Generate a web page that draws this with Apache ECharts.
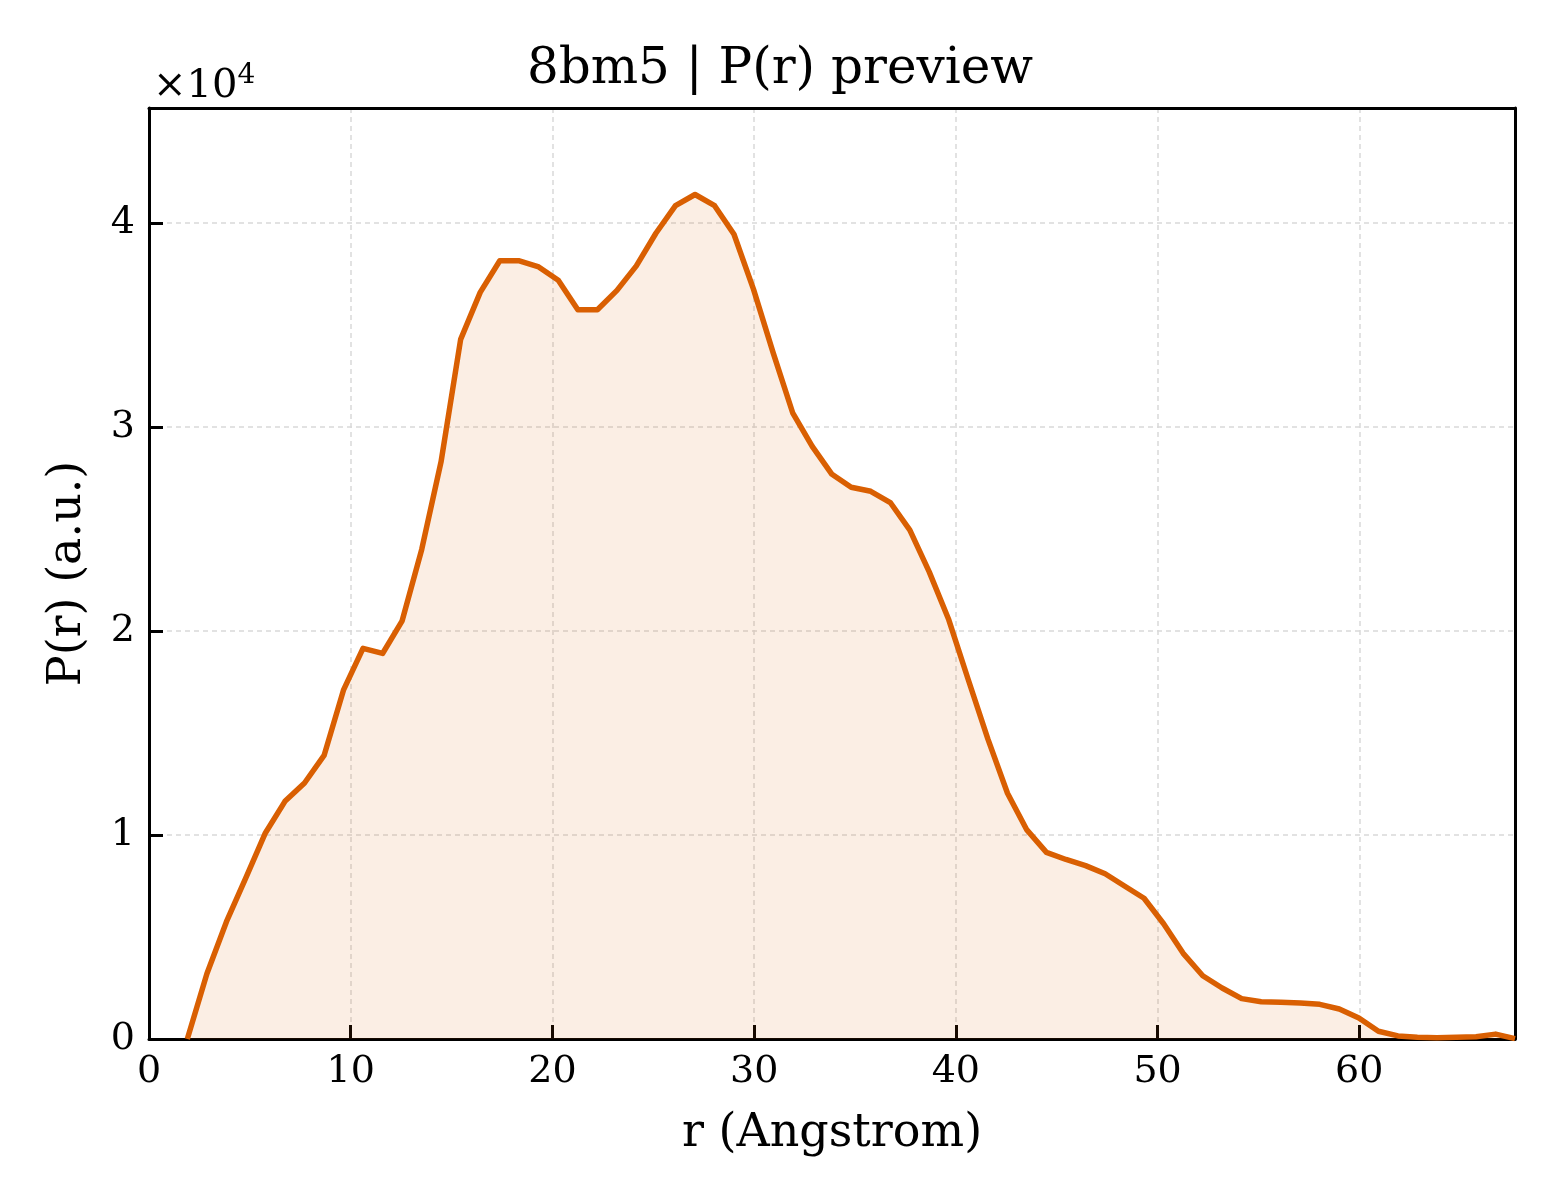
<!DOCTYPE html>
<html>
<head>
<meta charset="utf-8">
<title>8bm5 P(r) preview</title>
<script src="https://cdn.jsdelivr.net/npm/echarts@6/dist/echarts.min.js"></script>
<style>
html, body { margin: 0; padding: 0; background: #fff; }
#main { width: 1560px; height: 1200px; }
</style>
</head>
<body>
<div id="main"></div>
<script>
// r values (Angstrom)
var rValues = [
    1.90, 2.87, 3.84, 4.80, 5.77, 6.74, 7.71, 8.68, 9.64, 10.61,
    11.58, 12.55, 13.52, 14.48, 15.45, 16.42, 17.39, 18.36, 19.32, 20.29,
    21.26, 22.23, 23.20, 24.16, 25.13, 26.10, 27.07, 28.04, 29.00, 29.97,
    30.94, 31.91, 32.88, 33.84, 34.81, 35.78, 36.75, 37.72, 38.68, 39.65,
    40.62, 41.59, 42.56, 43.52, 44.49, 45.46, 46.43, 47.40, 48.36, 49.33,
    50.30, 51.27, 52.24, 53.20, 54.17, 55.14, 56.11, 57.08, 58.04, 59.01,
    59.98, 60.95, 61.92, 62.88, 63.85, 64.82, 65.79, 66.76, 67.72
];

// P(r) in a.u.
var prValues = [
    0, 3200, 5750, 7900, 10100, 11650, 12550, 13900, 17100, 19150,
    18900, 20500, 24000, 28300, 34300, 36600, 38150, 38150, 37850, 37200,
    35750, 35750, 36700, 37900, 39500, 40850, 41400, 40850, 39450, 36750,
    33650, 30700, 29050, 27700, 27050, 26850, 26300, 24950, 22900, 20550,
    17600, 14700, 12050, 10250, 9150, 8800, 8500, 8100, 7500, 6900,
    5650, 4200, 3100, 2500, 1980, 1830, 1800, 1770, 1700, 1470,
    1030, 380, 150, 90, 60, 80, 110, 240, 20
];

var xTicks = [0, 10, 20, 30, 40, 50, 60];
var yTicks = [0, 1, 2, 3, 4];

var serif = 'DejaVu Serif';
var lineColor = '#d95f02';

var points = [];
for (var i = 0; i < rValues.length; i++) {
    points.push([rValues[i], prValues[i]]);
}

var myChart = echarts.init(document.getElementById('main'), null, { renderer: 'canvas' });

// plain frame line for top / right side
var frameAxis = {
    axisLine: { show: true, onZero: false, lineStyle: { color: '#000', width: 3 } },
    axisTick: { show: false },
    axisLabel: { show: false },
    splitLine: { show: false }
};

var option = {
    animation: false,
    backgroundColor: '#fff',
    textStyle: { fontFamily: serif },
    title: [{
        text: '8bm5 | P(r) preview',
        left: 'center',
        top: 40,
        textStyle: { fontFamily: serif, fontSize: 50, fontWeight: 'normal', color: '#000' }
    }, {
        // offset text of the y axis
        text: '{a|×10}{b|4}',
        left: 148,
        top: 57,
        textStyle: {
            fontWeight: 'normal',
            rich: {
                a: { fontFamily: serif, fontSize: 40, fontWeight: 'normal', color: '#000', verticalAlign: 'bottom' },
                b: { fontFamily: serif, fontSize: 28, fontWeight: 'normal', color: '#000', verticalAlign: 'top', padding: [0, 0, 17, 0] }
            }
        }
    }],
    grid: {
        left: 149,
        top: 108,
        width: 1366,
        height: 931,
        show: false
    },
    xAxis: [{
        type: 'value',
        min: 0,
        max: 67.72,
        interval: 10,
        name: 'r (Angstrom)',
        nameLocation: 'middle',
        nameGap: 72,
        nameTextStyle: { fontFamily: serif, fontSize: 46, color: '#000' },
        axisLine: { show: true, onZero: false, lineStyle: { color: '#000', width: 3 } },
        axisTick: { show: true, inside: true, length: 14, lineStyle: { color: '#000', width: 3 } },
        axisLabel: {
            fontFamily: serif, fontSize: 38, color: '#000', margin: 14,
            showMaxLabel: false,
            formatter: function (v) { return xTicks.indexOf(v) >= 0 ? String(v) : ''; }
        },
        splitLine: { show: true, lineStyle: { color: '#d9d9d9', width: 1.5, type: [5, 4] } }
    }, Object.assign({
        type: 'value', position: 'top', min: 0, max: 67.72
    }, frameAxis)],
    yAxis: [{
        type: 'value',
        min: 0,
        max: 45640,
        interval: 10000,
        name: 'P(r) (a.u.)',
        nameLocation: 'middle',
        nameGap: 58,
        nameTextStyle: { fontFamily: serif, fontSize: 46, color: '#000' },
        axisLine: { show: true, onZero: false, lineStyle: { color: '#000', width: 3 } },
        axisTick: { show: true, inside: true, length: 14, lineStyle: { color: '#000', width: 3 } },
        axisLabel: {
            fontFamily: serif, fontSize: 38, color: '#000', margin: 14,
            showMaxLabel: false,
            formatter: function (v) {
                var t = v / 10000;
                return yTicks.indexOf(t) >= 0 ? String(t) : '';
            }
        },
        splitLine: { show: true, lineStyle: { color: '#d9d9d9', width: 1.5, type: [5, 4] } }
    }, Object.assign({
        type: 'value', position: 'right', min: 0, max: 45640
    }, frameAxis)],
    series: [{
        name: 'P(r)',
        type: 'line',
        data: points,
        symbol: 'none',
        smooth: false,
        lineStyle: { color: lineColor, width: 5.5, join: 'round' },
        areaStyle: { color: 'rgba(217,95,2,0.15)', origin: 'start' }
    }]
};

myChart.setOption(option);
</script>
</body>
</html>
